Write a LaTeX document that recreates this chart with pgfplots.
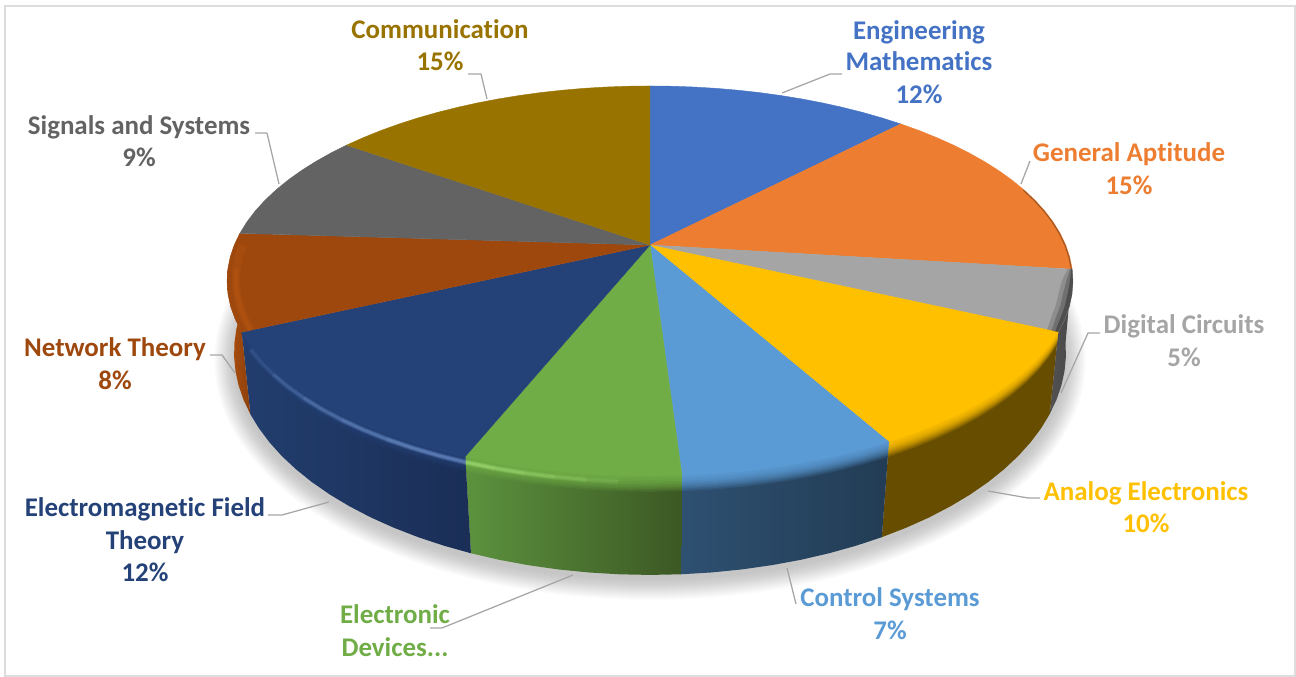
\documentclass[border=0pt]{standalone}
\usepackage{fontspec}
\setmainfont{Carlito}[Ligatures=NoCommon]
\usepackage{pgfplots}
\usepackage{pgfplotstable}
\pgfplotsset{compat=1.18}

% Slice colours
\definecolor{cEng}{HTML}{4472C4}
\definecolor{cGen}{HTML}{ED7D31}
\definecolor{cDig}{HTML}{A5A5A5}
\definecolor{cAna}{HTML}{FFC000}
\definecolor{cCon}{HTML}{5B9BD5}
\definecolor{cDev}{HTML}{70AD47}
\definecolor{cEmf}{HTML}{254278}
\definecolor{cNet}{HTML}{9E480E}
\definecolor{cSig}{HTML}{636363}
\definecolor{cCom}{HTML}{997300}
\definecolor{leader}{HTML}{A6A6A6}
\definecolor{frame}{HTML}{DDDDDD}
\definecolor{litEmf}{RGB}{120,155,215}
\definecolor{litDev}{RGB}{170,230,125}
\definecolor{litNet}{RGB}{200,95,20}

% Slices are given by cumulative percentage p along the rim:
% 12, 15, 5, 10, 7, 7, 12, 8, 9, 15 (r = 0 is the pie centre, r = 1 the rim).
\pgfplotstableread[row sep=\\]{p r\\0 0\\0 1\\1 1\\2 1\\3 1\\4 1\\5 1\\6 1\\7 1\\8 1\\9 1\\10 1\\11 1\\12 1\\}\sEng
\pgfplotstableread[row sep=\\]{p r\\12 0\\12 1\\13 1\\14 1\\15 1\\16 1\\17 1\\18 1\\19 1\\20 1\\21 1\\22 1\\23 1\\24 1\\25 1\\26 1\\27 1\\}\sGen
\pgfplotstableread[row sep=\\]{p r\\27 0\\27 1\\28 1\\29 1\\30 1\\31 1\\32 1\\}\sDig
\pgfplotstableread[row sep=\\]{p r\\32 0\\32 1\\33 1\\34 1\\35 1\\36 1\\37 1\\38 1\\39 1\\40 1\\41 1\\42 1\\}\sAna
\pgfplotstableread[row sep=\\]{p r\\42 0\\42 1\\43 1\\44 1\\45 1\\46 1\\47 1\\48 1\\49 1\\}\sCon
\pgfplotstableread[row sep=\\]{p r\\49 0\\49 1\\50 1\\51 1\\52 1\\53 1\\54 1\\55 1\\56 1\\}\sDev
\pgfplotstableread[row sep=\\]{p r\\56 0\\56 1\\57 1\\58 1\\59 1\\60 1\\61 1\\62 1\\63 1\\64 1\\65 1\\66 1\\67 1\\68 1\\}\sEmf
\pgfplotstableread[row sep=\\]{p r\\68 0\\68 1\\69 1\\70 1\\71 1\\72 1\\73 1\\74 1\\75 1\\76 1\\}\sNet
\pgfplotstableread[row sep=\\]{p r\\76 0\\76 1\\77 1\\78 1\\79 1\\80 1\\81 1\\82 1\\83 1\\84 1\\85 1\\}\sSig
\pgfplotstableread[row sep=\\]{p r\\85 0\\85 1\\86 1\\87 1\\88 1\\89 1\\90 1\\91 1\\92 1\\93 1\\94 1\\95 1\\96 1\\97 1\\98 1\\99 1\\100 1\\}\sCom

% Side walls: along the top rim (b = 0), back along the bottom rim (b = 1).
\pgfplotstableread[row sep=\\]{p b\\27 0\\28 0\\29 0\\30 0\\31 0\\32 0\\32 1\\31 1\\30 1\\29 1\\28 1\\27 1\\}\wDig
\pgfplotstableread[row sep=\\]{p b\\32 0\\33 0\\34 0\\35 0\\36 0\\37 0\\38 0\\39 0\\40 0\\41 0\\42 0\\42 1\\41 1\\40 1\\39 1\\38 1\\37 1\\36 1\\35 1\\34 1\\33 1\\32 1\\}\wAna
\pgfplotstableread[row sep=\\]{p b\\42 0\\43 0\\44 0\\45 0\\46 0\\47 0\\48 0\\49 0\\49 1\\48 1\\47 1\\46 1\\45 1\\44 1\\43 1\\42 1\\}\wCon
\pgfplotstableread[row sep=\\]{p b\\49 0\\50 0\\51 0\\52 0\\53 0\\54 0\\55 0\\56 0\\56 1\\55 1\\54 1\\53 1\\52 1\\51 1\\50 1\\49 1\\}\wDev
\pgfplotstableread[row sep=\\]{p b\\56 0\\57 0\\58 0\\59 0\\60 0\\61 0\\62 0\\63 0\\64 0\\65 0\\66 0\\67 0\\68 0\\68 1\\67 1\\66 1\\65 1\\64 1\\63 1\\62 1\\61 1\\60 1\\59 1\\58 1\\57 1\\56 1\\}\wEmf
\pgfplotstableread[row sep=\\]{p b\\68 0\\69 0\\70 0\\71 0\\72 0\\73 0\\74 0\\75 0\\76 0\\76 1\\75 1\\74 1\\73 1\\72 1\\71 1\\70 1\\69 1\\68 1\\}\wNet

% Perspective view of the top and bottom circles of the disc;
% \bscale shrinks a wall towards the top rim, for the rounded edge.
\def\bscale{1}
\newcommand{\topW}{(1+0.1846*\thisrow{r}*cos(3.6*\thisrow{p}))}
\newcommand{\faceX}{650+415.7*\thisrow{r}*sin(3.6*\thisrow{p})/\topW}
\newcommand{\faceY}{245-188.4*\thisrow{r}*cos(3.6*\thisrow{p})/\topW}
\newcommand{\wallX}{650+((1-\bscale*\thisrow{b})*415.7/(1+0.1846*cos(3.6*\thisrow{p}))+\bscale*\thisrow{b}*410/(1+0.169*cos(3.6*\thisrow{p})))*sin(3.6*\thisrow{p})}
\newcommand{\wallY}{(1-\bscale*\thisrow{b})*245+\bscale*\thisrow{b}*315-((1-\bscale*\thisrow{b})*188.4/(1+0.1846*cos(3.6*\thisrow{p}))+\bscale*\thisrow{b}*216/(1+0.169*cos(3.6*\thisrow{p})))*cos(3.6*\thisrow{p})}
\pgfplotsset{
  face/.style={/pgfplots/table/x expr=\faceX, /pgfplots/table/y expr=\faceY},
  wall/.style={/pgfplots/table/x expr=\wallX, /pgfplots/table/y expr=\wallY},
}

% Rounded edge: the top colour fades out over the upper part of a wall
\newcommand{\softband}[2]{%
  \def\bscale{.16}\addplot[fill=#2,draw=none,opacity=.14] table[wall] {#1};
  \def\bscale{.145}\addplot[fill=#2,draw=none,opacity=.16] table[wall] {#1};
  \def\bscale{.13}\addplot[fill=#2,draw=none,opacity=.18] table[wall] {#1};
  \def\bscale{.115}\addplot[fill=#2,draw=none,opacity=.2] table[wall] {#1};
  \def\bscale{.10}\addplot[fill=#2,draw=none,opacity=.22] table[wall] {#1};
  \def\bscale{.085}\addplot[fill=#2,draw=none,opacity=.24] table[wall] {#1};
  \def\bscale{.07}\addplot[fill=#2,draw=none,opacity=.26] table[wall] {#1};
  \def\bscale{.055}\addplot[fill=#2,draw=none,opacity=.28] table[wall] {#1};
  \def\bscale{.04}\addplot[fill=#2,draw=none,opacity=.3] table[wall] {#1};
  \def\bscale{.025}\addplot[fill=#2,draw=none,opacity=.4] table[wall] {#1};
  \def\bscale{1}%
}
% Lit stretch of the rounded edge, at b = .06 down the wall
\newcommand{\lit}[2]{%
  \addplot[#2,opacity=.05,line width=4.2pt] table[wall,row sep=\\] {#1};
  \addplot[#2,opacity=.07,line width=3pt] table[wall,row sep=\\] {#1};
  \addplot[#2,opacity=.09,line width=1.7pt] table[wall,row sep=\\] {#1};
}
% One label line, placed on its baseline
\newcommand{\lbl}[4]{\node[anchor=base,text=#3,font=\fontsize{20.2}{24}\selectfont\bfseries,inner sep=0pt] at (axis cs:#1,#2) {#4};}

\begin{document}
\begin{tikzpicture}
\useasboundingbox (0,0) rectangle (972pt,507.75pt);
\begin{axis}[
  at={(0,0)}, anchor=south west,
  scale only axis, width=972pt, height=507.75pt,
  xmin=0, xmax=1296, ymin=0, ymax=677, y dir=reverse,
  hide axis, clip=false,
]
  % chart frame
  \draw[frame,line width=1.3pt] (axis cs:5,6) rectangle (axis cs:1295,676);

  % drop shadow below the disc
  \pgfplotsinvokeforeach{0,...,20}{
    \fill[black,opacity=.01] (axis cs:650,360) ellipse [x radius={(416+#1)*0.75pt}, y radius={(220+#1)*0.75pt}];
  }

  % side walls
  \addplot[draw=none,left color=black!68,right color=black!72] table[wall] {\wDig};
  \addplot[draw=none,left color=cAna!40!black,right color=cAna!40!black] table[wall] {\wAna};
  \addplot[draw=none,left color={rgb,255:red,46;green,80;blue,113},right color={rgb,255:red,34;green,60;blue,84}] table[wall] {\wCon};
  \addplot[draw=none,left color={rgb,255:red,92;green,146;blue,62},right color={rgb,255:red,60;green,88;blue,36}] table[wall] {\wDev};
  \addplot[draw=none,left color={rgb,255:red,34;green,62;blue,110},right color={rgb,255:red,26;green,46;blue,86}] table[wall] {\wEmf};
  \addplot[draw=none,left color={rgb,255:red,176;green,80;blue,14},right color={rgb,255:red,140;green,64;blue,12}] table[wall] {\wNet};

  % rounded edge between top face and wall
  \softband{\wAna}{cAna}
  \softband{\wCon}{cCon}
  \softband{\wDev}{cDev}
  \softband{\wEmf}{cEmf}

  % top faces
  \addplot[fill=cEng,draw=cEng,line width=.3pt] table[face] {\sEng};
  \addplot[fill=cGen,draw=cGen,line width=.3pt] table[face] {\sGen};
  \addplot[fill=cDig,draw=cDig,line width=.3pt] table[face] {\sDig};
  \addplot[fill=cAna,draw=cAna,line width=.3pt] table[face] {\sAna};
  \addplot[fill=cCon,draw=cCon,line width=.3pt] table[face] {\sCon};
  \addplot[fill=cDev,draw=cDev,line width=.3pt] table[face] {\sDev};
  \addplot[fill=cEmf,draw=cEmf,line width=.3pt] table[face] {\sEmf};
  \addplot[fill=cNet,draw=cNet,line width=.3pt] table[face] {\sNet};
  \addplot[fill=cSig,draw=cSig,line width=.3pt] table[face] {\sSig};
  \addplot[fill=cCom,draw=cCom,line width=.3pt] table[face] {\sCom};

  % lit bevel on the green and navy slices, fading with distance from their shared edge
  \lit{p b\\56 .06\\55 .06\\}{litDev}
  \lit{p b\\56 .06\\55 .06\\54 .06\\}{litDev}
  \lit{p b\\56 .06\\55 .06\\54 .06\\53 .06\\}{litDev}
  \lit{p b\\56 .06\\55 .06\\54 .06\\53 .06\\52 .06\\}{litDev}
  \lit{p b\\56 .06\\55 .06\\54 .06\\53 .06\\52 .06\\51 .06\\}{litDev}
  \lit{p b\\56 .06\\57 .06\\58 .06\\59 .06\\}{litEmf}
  \lit{p b\\56 .06\\57 .06\\58 .06\\59 .06\\60 .06\\61 .06\\}{litEmf}
  \lit{p b\\56 .06\\57 .06\\58 .06\\59 .06\\60 .06\\61 .06\\62 .06\\63 .06\\}{litEmf}
  \lit{p b\\56 .06\\57 .06\\58 .06\\59 .06\\60 .06\\61 .06\\62 .06\\63 .06\\64 .06\\65 .06\\}{litEmf}
  \lit{p b\\56 .06\\57 .06\\58 .06\\59 .06\\60 .06\\61 .06\\62 .06\\63 .06\\64 .06\\65 .06\\66 .06\\67 .06\\}{litEmf}

  % lit bevel on the brown slice
  \addplot[litNet,opacity=.2,line width=6pt] table[face,row sep=\\] {p r\\68 .98\\69 .98\\70 .98\\71 .98\\72 .98\\73 .98\\74 .98\\75 .98\\};
  \addplot[litNet,opacity=.25,line width=3pt] table[face,row sep=\\] {p r\\68 .98\\69 .98\\70 .98\\71 .98\\72 .98\\73 .98\\};

  % dark fall-off at the far right of the rim
  \addplot[fill=black,draw=none,opacity=.14] table[face,row sep=\\] {p r\\27 1\\28 1\\29 1\\30 1\\31 1\\32 1\\32 .975\\31 .97\\30 .97\\29 .97\\28 .975\\27 .99\\};
  \addplot[fill=black,draw=none,opacity=.2] table[face,row sep=\\] {p r\\27 1\\28 1\\29 1\\30 1\\31 1\\32 1\\32 .985\\31 .98\\30 .98\\29 .98\\28 .985\\27 .995\\};
  \addplot[fill=black,draw=none,opacity=.3] table[face,row sep=\\] {p r\\27 1\\28 1\\29 1\\30 1\\31 1\\32 1\\32 .993\\31 .99\\30 .99\\29 .99\\28 .993\\27 .998\\};
  \addplot[color=black,opacity=.3,line width=.9pt] table[face,row sep=\\] {p r\\20 .998\\21 .998\\22 .998\\23 .998\\24 .998\\25 .998\\26 .998\\27 .998\\};

  % leader lines
  \begin{scope}[leader,line width=.95pt,line join=round]
    \draw (axis cs:782,93) -- (axis cs:830,74) -- (axis cs:842,74);
    \draw (axis cs:1021,184) -- (axis cs:1030,161);
    \draw (axis cs:1061,393) -- (axis cs:1088,333) -- (axis cs:1100,333);
    \draw (axis cs:988,491) -- (axis cs:1028,498) -- (axis cs:1040,498);
    \draw (axis cs:787,568) -- (axis cs:796,604);
    \draw (axis cs:573,575) -- (axis cs:442,628) -- (axis cs:430,628);
    \draw (axis cs:329,502) -- (axis cs:282,515) -- (axis cs:268,515);
    \draw (axis cs:235,373) -- (axis cs:222,355) -- (axis cs:210,355);
    \draw (axis cs:279,184) -- (axis cs:267,133) -- (axis cs:255,133);
    \draw (axis cs:487,99) -- (axis cs:481,74) -- (axis cs:468,74);
  \end{scope}

  % labels
  \lbl{440}{39}{cCom}{Communication}
  \lbl{440}{71}{cCom}{15\%}
  \lbl{919}{40}{cEng}{Engineering}
  \lbl{919}{71}{cEng}{Mathematics}
  \lbl{919}{104}{cEng}{12\%}
  \lbl{1129}{162}{cGen}{General Aptitude}
  \lbl{1129}{195}{cGen}{15\%}
  \lbl{1184}{334}{cDig}{Digital Circuits}
  \lbl{1184}{367}{cDig}{5\%}
  \lbl{1146}{500}{cAna}{Analog Electronics}
  \lbl{1146}{532}{cAna}{10\%}
  \lbl{890}{606}{cCon}{Control Systems}
  \lbl{890}{639}{cCon}{7\%}
  \lbl{395}{623}{cDev}{Electronic}
  \lbl{395}{656}{cDev}{Devices...}
  \lbl{145}{516}{cEmf}{Electromagnetic Field}
  \lbl{145}{549}{cEmf}{Theory}
  \lbl{145}{581}{cEmf}{12\%}
  \lbl{115}{357}{cNet}{Network Theory}
  \lbl{115}{389}{cNet}{8\%}
  \lbl{139}{135}{cSig}{Signals and Systems}
  \lbl{139}{167}{cSig}{9\%}
\end{axis}
\end{tikzpicture}
\end{document}
